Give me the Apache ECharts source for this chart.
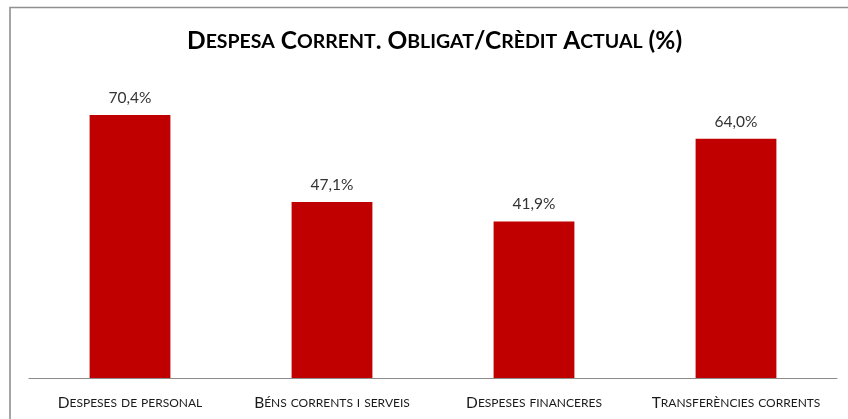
<!DOCTYPE html>
<html>
<head>
<meta charset="utf-8">
<script src="https://cdn.jsdelivr.net/npm/echarts@6/dist/echarts.min.js"></script>
<style>
html,body{margin:0;padding:0;background:#fff;}
#chart{width:848px;height:419px;}
</style>
</head>
<body>
<div id="chart"></div>
<script>
const titleText = 'Despesa Corrent. Obligat/Crèdit Actual (%)';
const categories = ['Despeses de personal', 'Béns corrents i serveis', 'Despeses financeres', 'Transferències corrents'];
const values = [70.4, 47.1, 41.9, 64.0];

function smallCaps(str, big, small) {
  let out = '';
  let i = 0;
  while (i < str.length) {
    const ch = str[i];
    const isLower = ch !== ch.toUpperCase() && ch === ch.toLowerCase();
    let j = i;
    while (j < str.length) {
      const c = str[j];
      const l = c !== c.toUpperCase() && c === c.toLowerCase();
      if (l !== isLower) break;
      j++;
    }
    const seg = str.slice(i, j);
    out += '{' + (isLower ? small : big) + '|' + (isLower ? seg.toUpperCase() : seg) + '}';
    i = j;
  }
  return out;
}

const chart = echarts.init(document.getElementById('chart'), null, {renderer: 'canvas'});
const FONT = 'Lato';
chart.setOption({
  animation: false,
  backgroundColor: '#fff',
  graphic: [{
    type: 'polyline',
    shape: {points: [[10, 419], [10, 7.5], [848, 7.5]]},
    style: {stroke: '#909090', lineWidth: 1.6, fill: null},
    silent: true
  }],
  title: {
    text: smallCaps(titleText, 'b', 's'),
    left: 182,
    top: 24,
    padding: 5,
    textStyle: {
      rich: {
        b: {fontFamily: FONT, fontWeight: 'bold', fontSize: 24.5, color: '#000'},
        s: {fontFamily: FONT, fontWeight: 'bold', fontSize: 19.5, color: '#000'}
      }
    }
  },
  grid: {left: 29, right: 11, top: 79, bottom: 41, containLabel: false},
  xAxis: {
    type: 'category',
    data: categories,
    axisLine: {lineStyle: {color: '#8c8c8c', width: 1}},
    axisTick: {show: false},
    axisLabel: {
      interval: 0,
      margin: 17,
      formatter: function (v) { return smallCaps(v, 'b', 's'); },
      rich: {
        b: {fontFamily: FONT, fontSize: 15.5, color: '#1a1a1a'},
        s: {fontFamily: FONT, fontSize: 12, color: '#1a1a1a'}
      }
    }
  },
  yAxis: {
    type: 'value',
    min: 0,
    max: 80,
    show: false,
    splitLine: {show: false}
  },
  series: [{
    type: 'bar',
    data: values,
    barWidth: '40%',
    itemStyle: {color: '#C00000'},
    label: {
      show: true,
      position: 'top',
      distance: 9,
      fontFamily: FONT,
      fontSize: 15.5,
      color: '#333',
      formatter: function (p) { return p.value.toFixed(1).replace('.', ',') + '%'; }
    }
  }]
});
</script>
</body>
</html>
